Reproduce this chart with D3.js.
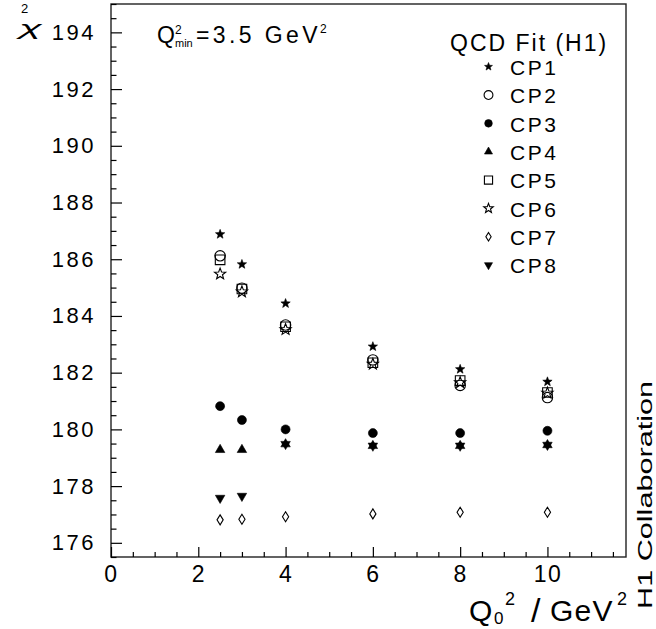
<!DOCTYPE html>
<html>
<head>
<meta charset="utf-8">
<script src="https://cdn.jsdelivr.net/npm/d3@7"></script>
<style>
  html, body { margin: 0; padding: 0; background: #fff; }
  svg { display: block; }
  text { font-family: "Liberation Sans", Arial, sans-serif; fill: #000; }
</style>
</head>
<body>
<svg id="chart" width="656" height="629"></svg>
<script>
// ---------------- data ----------------
const q0Values = [2.5, 3, 4, 6, 8, 10];
const cp1 = [186.88, 185.82, 184.44, 182.92, 182.12, 181.68];
const cp2 = [186.12, 184.98, 183.68, 182.45, 181.55, 181.12];
const cp3 = [180.82, 180.33, 180.00, 179.87, 179.87, 179.95];
const cp4 = [179.28, 179.28, 179.48, 179.42, 179.42, 179.45];
const cp5 = [185.98, 184.95, 183.62, 182.35, 181.72, 181.30];
const cp6 = [185.48, 184.85, 183.52, 182.30, 181.65, 181.28];
const cp7 = [176.81, 176.83, 176.92, 177.02, 177.08, 177.08];
const cp8 = [177.58, 177.65, 179.48, 179.42, 179.42, 179.45];
const seriesNames = ["CP1", "CP2", "CP3", "CP4", "CP5", "CP6", "CP7", "CP8"];
const xTickValues = [0, 2, 4, 6, 8, 10];
const yTickValues = [176, 178, 180, 182, 184, 186, 188, 190, 192, 194];
const legendTitle = "QCD Fit (H1)";

// ---------------- layout ----------------
const svg = d3.select("#chart");
const plotL = 111, plotR = 626, plotT = 4, plotB = 557;
const x = d3.scaleLinear().domain([0, 11.8]).range([plotL, plotR]);
const y = d3.scaleLinear().domain([175.5, 195]).range([plotB, plotT]);

// ---------------- symbol types ----------------
const starType = { draw(ctx, R) {
  for (let i = 0; i < 10; i++) {
    const a = -Math.PI / 2 + i * Math.PI / 5;
    const r = (i % 2) ? R * 0.42 : R;
    const px = r * Math.cos(a), py = r * Math.sin(a);
    if (i === 0) ctx.moveTo(px, py); else ctx.lineTo(px, py);
  }
  ctx.closePath();
}};
const circleType = { draw(ctx, r) { ctx.moveTo(r, 0); ctx.arc(0, 0, r, 0, 2 * Math.PI); } };
const triUpType = { draw(ctx, s) {
  const h = s * Math.sqrt(3) / 2;
  ctx.moveTo(0, -2 * h / 3); ctx.lineTo(s / 2, h / 3); ctx.lineTo(-s / 2, h / 3); ctx.closePath();
}};
const triDownType = { draw(ctx, s) {
  const h = s * Math.sqrt(3) / 2;
  ctx.moveTo(0, 2 * h / 3); ctx.lineTo(s / 2, -h / 3); ctx.lineTo(-s / 2, -h / 3); ctx.closePath();
}};
const squareType = { draw(ctx, s) { ctx.rect(-s / 2, -s / 2, s, s); } };
const diamondType = { draw(ctx, h) {
  const w = h * 0.62;
  ctx.moveTo(0, -h / 2); ctx.lineTo(w / 2, 0); ctx.lineTo(0, h / 2); ctx.lineTo(-w / 2, 0); ctx.closePath();
}};

const series = [
  { name: seriesNames[0], values: cp1, type: starType, size: 4.9, filled: true },
  { name: seriesNames[1], values: cp2, type: circleType, size: 5.2, filled: false },
  { name: seriesNames[2], values: cp3, type: circleType, size: 4.5, filled: true },
  { name: seriesNames[3], values: cp4, type: triUpType, size: 9.5, filled: true },
  { name: seriesNames[4], values: cp5, type: squareType, size: 9.6, filled: false },
  { name: seriesNames[5], values: cp6, type: starType, size: 5.9, filled: false },
  { name: seriesNames[6], values: cp7, type: diamondType, size: 10, filled: false },
  { name: seriesNames[7], values: cp8, type: triDownType, size: 9.5, filled: true }
];

function styleMarker(sel, s) {
  sel.attr("fill", s.filled ? "#000" : "none")
     .attr("stroke", "#000")
     .attr("stroke-width", s.filled ? 0.6 : 1.1)
     .attr("stroke-linejoin", "miter");
}

// ---------------- frame ----------------
svg.append("rect")
  .attr("x", plotL).attr("y", plotT)
  .attr("width", plotR - plotL).attr("height", plotB - plotT)
  .attr("fill", "none").attr("stroke", "#222").attr("stroke-width", 1.4);

// ---------------- axes ----------------
const minorY = d3.range(175.5, 195.01, 0.5).filter(v => !yTickValues.includes(v));
const minorX = d3.range(0.5, 11.8, 0.5).filter(v => !xTickValues.includes(v));

const yMinor = svg.append("g").attr("transform", `translate(${plotL},0)`)
  .call(d3.axisLeft(y).tickValues(minorY).tickSize(-5.5).tickFormat(""));
const yMajor = svg.append("g").attr("transform", `translate(${plotL},0)`)
  .call(d3.axisLeft(y).tickValues(yTickValues).tickSize(-11).tickPadding(15).tickFormat(d3.format("d")));
const xMinor = svg.append("g").attr("transform", `translate(0,${plotB})`)
  .call(d3.axisBottom(x).tickValues(minorX).tickSize(-5).tickFormat(""));
const xMajor = svg.append("g").attr("transform", `translate(0,${plotB})`)
  .call(d3.axisBottom(x).tickValues(xTickValues).tickSize(-10).tickPadding(9).tickFormat(d3.format("d")));

[yMinor, yMajor, xMinor, xMajor].forEach(g => {
  g.select(".domain").remove();
  g.selectAll(".tick line").attr("stroke", "#000").attr("stroke-width", 1.2);
});
yMajor.selectAll(".tick text")
  .attr("font-family", "Liberation Sans, Arial, sans-serif")
  .attr("font-size", 22).style("letter-spacing", "2.5px").attr("fill", "#000");
xMajor.selectAll(".tick text")
  .attr("font-family", "Liberation Sans, Arial, sans-serif")
  .attr("font-size", 23).style("letter-spacing", "1.5px").attr("fill", "#000");

// ---------------- points ----------------
const drawOrder = [6, 7, 3, 2, 5, 4, 1, 0];
drawOrder.forEach(i => {
  const s = series[i];
  const sym = d3.symbol().type(s.type).size(s.size);
  svg.append("g").selectAll("path")
    .data(q0Values.map((q, j) => ({ q, v: s.values[j] })))
    .join("path")
    .attr("d", sym)
    .attr("transform", d => `translate(${x(d.q)},${y(d.v)})`)
    .call(styleMarker, s);
});

// ---------------- legend ----------------
svg.append("text")
  .attr("x", 450).attr("y", 51)
  .attr("font-size", 23).style("letter-spacing", "2px")
  .text(legendTitle);
const legend = svg.append("g");
const rowStart = 66.7, rowStep = 28.33;
series.forEach((s, i) => {
  const cy = rowStart + i * rowStep;
  legend.append("path")
    .attr("d", d3.symbol().type(s.type).size(s.size * 0.85)())
    .attr("transform", `translate(488.5,${cy})`)
    .call(styleMarker, s);
  legend.append("text")
    .attr("x", 510).attr("y", cy + 8.3)
    .attr("font-size", 21).style("letter-spacing", "2.5px")
    .text(s.name);
});

// ---------------- annotations ----------------
const qmin = svg.append("text").attr("y", 43).attr("font-size", 23);
qmin.append("tspan").attr("x", 157).text("Q");
qmin.append("tspan").attr("x", 175).attr("y", 34).attr("font-size", 12).text("2");
qmin.append("tspan").attr("x", 175).attr("y", 46.5).attr("font-size", 11).text("min");
qmin.append("tspan").attr("x", 196).attr("y", 43).style("letter-spacing", "3.4px").text("=3.5 GeV");
qmin.append("tspan").attr("dx", -1).attr("y", 33).attr("font-size", 12).text("2");

// y title chi^2
svg.append("text").attr("font-size", 13).attr("x", 21).attr("y", 13).text("2");
svg.append("text")
  .attr("transform", "translate(19,35) scale(1.9,0.95)")
  .attr("font-size", 22).attr("font-style", "italic")
  .text("χ");

// x title
const xt = svg.append("text").attr("y", 621).attr("font-size", 30);
xt.append("tspan").attr("x", 469).text("Q");
xt.append("tspan").attr("x", 494).attr("y", 624).attr("font-size", 17).text("0");
xt.append("tspan").attr("x", 505).attr("y", 605).attr("font-size", 18).text("2");
xt.append("tspan").attr("x", 531).attr("y", 622).attr("font-size", 34).text("/");
xt.append("tspan").attr("x", 550).attr("y", 621).style("letter-spacing", "1.2px").text("GeV");
xt.append("tspan").attr("x", 617).attr("y", 605).attr("font-size", 18).text("2");

// H1 Collaboration (vertical)
svg.append("text")
  .attr("transform", "translate(652,495) rotate(-90)")
  .attr("text-anchor", "middle")
  .attr("font-size", 20)
  .attr("textLength", 228).attr("lengthAdjust", "spacingAndGlyphs")
  .text("H1 Collaboration");
</script>
</body>
</html>
